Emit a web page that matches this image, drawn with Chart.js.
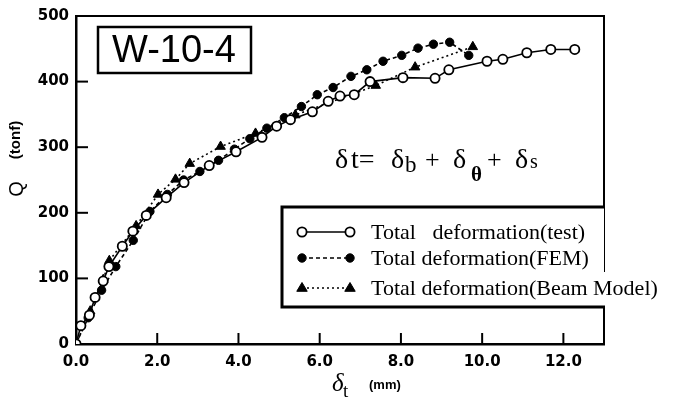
<!DOCTYPE html>
<html>
<head>
<meta charset="utf-8">
<script src="https://cdn.jsdelivr.net/npm/chart.js@4"></script>
<style>
  body { margin: 0; background: #fff; }
  #wrap { width: 676px; height: 402px; position: relative; }
</style>
</head>
<body>
<div id="wrap"><canvas id="chart"></canvas></div>
<script>
// values (delta_t in mm, Q in tonf)
const testX = [0, 0.12, 0.33, 0.47, 0.67, 0.81, 1.14, 1.4, 1.73, 2.22, 2.66, 3.28, 3.94, 4.58, 4.94, 5.28, 5.82, 6.21, 6.5, 6.85, 7.24, 8.05, 8.84, 9.18, 10.12, 10.51, 11.1, 11.69, 12.28];
const testQ = [0, 28, 44, 71, 96, 118, 149, 172, 196, 223, 246, 272, 293, 315, 332, 342, 354, 370, 378, 380, 400, 406, 405, 418, 431, 434, 444, 449, 449];

const femX = [0, 0.3, 0.63, 0.98, 1.41, 1.82, 2.25, 2.65, 3.05, 3.51, 3.9, 4.28, 4.7, 5.13, 5.55, 5.94, 6.33, 6.77, 7.16, 7.56, 8.02, 8.42, 8.8, 9.2, 9.67];
const femQ = [0, 40, 82, 118, 158, 202, 228, 250, 263, 280, 297, 313, 329, 345, 362, 380, 391, 408, 418, 431, 440, 451, 457, 460, 440];

const beamX = [0, 0.35, 0.67, 0.82, 1.48, 2.02, 2.45, 2.8, 3.56, 4.42, 5.4, 7.38, 8.35, 9.77];
const beamQ = [0, 50, 98, 127, 180, 228, 251, 275, 301, 321, 349, 394, 422, 453];

const xTicks = [0, 2, 4, 6, 8, 10, 12];
const yTicks = [0, 100, 200, 300, 400, 500];
const seriesNames = ['Total   deformation(test)', 'Total deformation(FEM)', 'Total deformation(Beam Model)'];

const toPts = (xs, ys) => xs.map((x, i) => ({ x: x, y: ys[i] }));
const tickFont = { family: '"DejaVu Sans"', size: 15, weight: 'bold' };

function marker(ctx, ds, x, y) {
    ctx.save();
    ctx.setLineDash([]);
    ctx.lineWidth = ds.pointBorderWidth;
    ctx.strokeStyle = '#000';
    ctx.fillStyle = ds.pointBackgroundColor;
    const r = ds.pointRadius;
    ctx.beginPath();
    if (ds.pointStyle === 'triangle') {
        ctx.moveTo(x, y - r);
        ctx.lineTo(x + r * 0.95, y + r * 0.6);
        ctx.lineTo(x - r * 0.95, y + r * 0.6);
        ctx.closePath();
    } else {
        ctx.arc(x, y, r, 0, Math.PI * 2);
    }
    ctx.fill();
    ctx.stroke();
    ctx.restore();
}

const decor = {
    id: 'decor',
    afterDraw(chart) {
        const ctx = chart.ctx;
        const a = chart.chartArea;
        const xs = chart.scales.x, ys = chart.scales.y;
        ctx.save();
        ctx.strokeStyle = '#000';
        ctx.fillStyle = '#000';

        // frame top + right (right side broken by legend text)
        ctx.lineWidth = 2;
        ctx.beginPath();
        ctx.moveTo(a.left, a.top);
        ctx.lineTo(a.right, a.top);
        ctx.lineTo(a.right, 272);
        ctx.moveTo(a.right, 307);
        ctx.lineTo(a.right, a.bottom);
        ctx.stroke();

        // inward ticks
        xTicks.forEach(v => {
            if (v === 0) return;
            const px = xs.getPixelForValue(v);
            ctx.beginPath();
            ctx.moveTo(px, a.bottom);
            ctx.lineTo(px, a.bottom - 11);
            ctx.stroke();
        });
        yTicks.forEach(v => {
            if (v === 0) return;
            const py = ys.getPixelForValue(v);
            ctx.beginPath();
            ctx.moveTo(a.left, py);
            ctx.lineTo(a.left + 12, py);
            ctx.stroke();
        });

        // specimen label
        ctx.lineWidth = 2.5;
        ctx.strokeRect(98, 27, 153, 46);
        ctx.font = '38px "Liberation Sans"';
        ctx.textBaseline = 'alphabetic';
        ctx.fillText('W-10-4', 112, 62);

        // formula
        const serif = '"Liberation Serif"';
        ctx.font = '28px ' + serif;
        ctx.fillText('δ', 335, 168);
        ctx.fillText('t=', 351, 168);
        ctx.fillText('δ', 391, 168);
        ctx.font = '23px ' + serif;
        ctx.fillText('b', 405, 172);
        ctx.font = '26px ' + serif;
        ctx.fillText('+', 425, 168);
        ctx.font = '28px ' + serif;
        ctx.fillText('δ', 453, 168);
        ctx.font = 'bold 21px ' + serif;
        ctx.fillText('θ', 471, 181);
        ctx.font = '26px ' + serif;
        ctx.fillText('+', 487, 168);
        ctx.font = '28px ' + serif;
        ctx.fillText('δ', 515, 168);
        ctx.font = '20px ' + serif;
        ctx.fillText('s', 530, 168);

        // legend
        ctx.fillStyle = '#fff';
        ctx.fillRect(282, 207, 322, 101);
        ctx.fillStyle = '#000';
        ctx.lineWidth = 3;
        ctx.beginPath();
        ctx.moveTo(a.right, 207);
        ctx.lineTo(282, 207);
        ctx.lineTo(282, 307);
        ctx.lineTo(a.right + 1, 307);
        ctx.stroke();
        const rows = [232, 258, 288];
        chart.data.datasets.forEach((ds, i) => {
            const y = rows[i];
            ctx.save();
            ctx.lineWidth = ds.borderWidth;
            ctx.setLineDash(ds.borderDash || []);
            ctx.beginPath();
            ctx.moveTo(302, y);
            ctx.lineTo(350, y);
            ctx.stroke();
            ctx.restore();
            marker(ctx, ds, 302, y);
            marker(ctx, ds, 350, y);
            ctx.font = '22px ' + serif;
            ctx.textBaseline = 'middle';
            ctx.fillText(seriesNames[i], 371, y + 1);
        });

        // axis titles
        ctx.textBaseline = 'middle';
        ctx.save();
        ctx.translate(17, 189);
        ctx.rotate(-Math.PI / 2);
        ctx.textAlign = 'center';
        ctx.font = '20px "Liberation Sans"';
        ctx.fillText('Q', 0, 0);
        ctx.font = 'bold 15px "Liberation Sans"';
        ctx.fillText('(tonf)', 49, -1);
        ctx.restore();

        ctx.textBaseline = 'alphabetic';
        ctx.font = 'italic 25px ' + serif;
        ctx.fillText('δ', 332, 391);
        ctx.font = '19px ' + serif;
        ctx.fillText('t', 343, 397);
        ctx.font = 'bold 13px "Liberation Sans"';
        ctx.fillText('(mm)', 369, 389);
        ctx.restore();
    }
};

new Chart(document.getElementById('chart'), {
    type: 'line',
    data: {
        datasets: [{
            label: seriesNames[0],
            data: toPts(testX, testQ),
            borderColor: '#000',
            borderWidth: 1.6,
            pointStyle: 'circle',
            pointRadius: 4.6,
            pointBorderWidth: 1.8,
            pointBackgroundColor: '#fff',
            pointBorderColor: '#000'
        }, {
            label: seriesNames[1],
            data: toPts(femX, femQ),
            borderColor: '#000',
            borderWidth: 1.6,
            borderDash: [4, 3],
            pointStyle: 'circle',
            pointRadius: 4.2,
            pointBorderWidth: 1,
            pointBackgroundColor: '#000',
            pointBorderColor: '#000'
        }, {
            label: seriesNames[2],
            data: toPts(beamX, beamQ),
            borderColor: '#000',
            borderWidth: 1.6,
            borderDash: [2, 3],
            pointStyle: 'triangle',
            pointRadius: 5.5,
            pointBorderWidth: 1,
            pointBackgroundColor: '#000',
            pointBorderColor: '#000'
        }]
    },
    options: {
        responsive: true,
        maintainAspectRatio: false,
        animation: false,
        layout: { padding: { left: 0, right: 72, top: 10, bottom: 0 } },
        plugins: { legend: { display: false }, tooltip: { enabled: false } },
        scales: {
            x: {
                type: 'linear',
                min: 0,
                max: 13,
                afterBuildTicks: s => { s.ticks = xTicks.map(v => ({ value: v })); },
                afterFit: s => { s.height = 58; },
                ticks: { callback: v => v.toFixed(1), font: tickFont, color: '#000', padding: 9, maxRotation: 0, autoSkip: false },
                grid: { drawOnChartArea: false, drawTicks: false },
                border: { color: '#000', width: 2.5 }
            },
            y: {
                min: 0,
                max: 500,
                afterBuildTicks: s => { s.ticks = yTicks.map(v => ({ value: v })); },
                afterFit: s => { s.width = 76; },
                ticks: { font: tickFont, color: '#000', padding: 7 },
                grid: { drawOnChartArea: false, drawTicks: false },
                border: { color: '#000', width: 2.5 }
            }
        }
    },
    plugins: [decor]
});
</script>
</body>
</html>
